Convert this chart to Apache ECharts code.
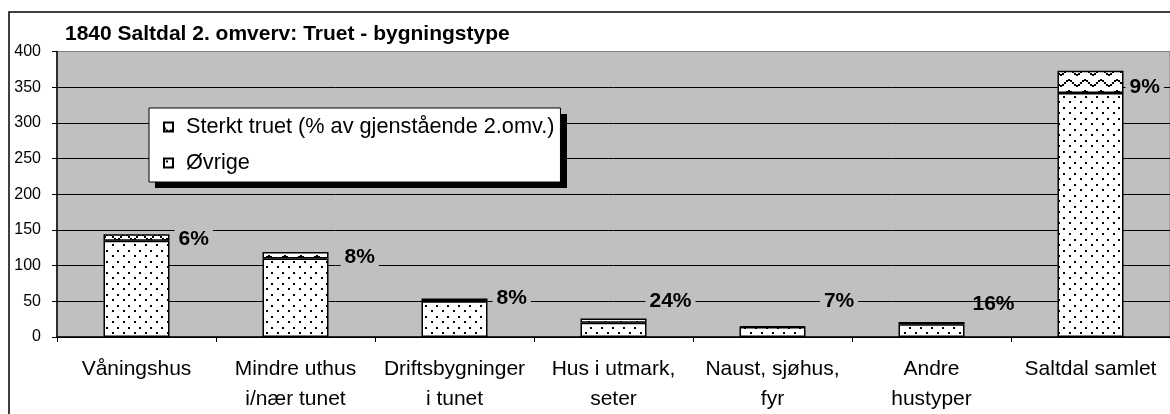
<!DOCTYPE html>
<html>
<head>
<meta charset="utf-8">
<script src="https://cdn.jsdelivr.net/npm/echarts@6.0.0/dist/echarts.min.js"></script>
<style>
  html, body { margin: 0; padding: 0; background: #fff; }
  #chart { width: 1170px; height: 414px; }
</style>
</head>
<body>
<div id="chart"></div>
<script>
// data
var categories = ['Våningshus', 'Mindre uthus\ni/nær tunet', 'Driftsbygninger\ni tunet',
  'Hus i utmark,\nseter', 'Naust, sjøhus,\nfyr', 'Andre\nhustyper', 'Saltdal samlet'];
var ovrige = [135, 110, 50, 20, 14, 18, 342];
var sterktTruet = [9, 9, 4, 6, 1, 3, 31];
var pctLabels = ['6%', '8%', '8%', '24%', '7%', '16%', '9%'];
var yTicks = [0, 400, 50]; // min, max, step

var FONT = "'Liberation Sans', Arial, sans-serif";

// fill patterns like the old excel ones
function dotPattern() {
  var c = document.createElement('canvas');
  c.width = 11; c.height = 11;
  var ctx = c.getContext('2d');
  ctx.fillStyle = '#fff';
  ctx.fillRect(0, 0, 11, 11);
  ctx.fillStyle = '#000';
  ctx.fillRect(2, 2, 2, 2);
  ctx.fillRect(7, 8, 2, 2);
  return c;
}
function wavePattern() {
  var c = document.createElement('canvas');
  c.width = 16; c.height = 11;
  var ctx = c.getContext('2d');
  ctx.fillStyle = '#fff';
  ctx.fillRect(0, 0, 16, 11);
  ctx.fillStyle = '#000';
  for (var x = 0; x < 16; x += 2) {
    var y = 5 + 3 * Math.sin(2 * Math.PI * x / 16);
    ctx.fillRect(x, Math.round(y), 2, 2);
  }
  return c;
}

// nudges for the % labels so they sit where they do in the picture
var labelShift = [[2, 2], [9, 2], [2, -2], [-4, -19], [11, -25], [1, -19], [-1, 5]];

var topData = sterktTruet.map(function (v, i) {
  var item = { value: v, label: { offset: labelShift[i] } };
  if (i === 5) item.label.backgroundColor = 'transparent';
  return item;
});

var splitColors = [];
for (var t = yTicks[0]; t <= yTicks[1]; t += yTicks[2]) {
  splitColors.push(t === yTicks[1] ? '#808080' : '#000');
}

var chart = echarts.init(document.getElementById('chart'));
var option = {
  backgroundColor: '#fff',
  animation: false,
  title: {
    text: '1840 Saltdal 2. omverv: Truet - bygningstype',
    left: 65,
    top: 24,
    padding: 0,
    textStyle: { fontFamily: FONT, fontWeight: 'bold', fontSize: 21, color: '#000' }
  },
  graphic: [
    {
      // outer chart frame
      type: 'rect',
      shape: { x: 9, y: 12, width: 1200, height: 450 },
      style: { fill: 'none', stroke: '#000', lineWidth: 1.5 },
      z: 0
    },
    {
      // hard drop shadow behind the legend box
      type: 'rect',
      shape: { x: 155, y: 114, width: 412, height: 74 },
      style: { fill: '#000' },
      z: 3
    }
  ],
  legend: {
    orient: 'vertical',
    left: 149,
    top: 108,
    z: 5,
    data: ['Sterkt truet (% av gjenstående 2.omv.)', 'Øvrige'],
    icon: 'rect',
    itemWidth: 9,
    itemHeight: 9,
    itemGap: 14,
    padding: [8, 6, 8, 14],
    backgroundColor: '#fff',
    borderColor: '#000',
    borderWidth: 1,
    textStyle: { fontFamily: FONT, fontSize: 21.7, color: '#000', padding: [0, 0, 0, 8] }
  },
  grid: {
    left: 57,
    top: 51.5,
    bottom: 73.5,
    right: -5.5,
    show: true,
    backgroundColor: '#c0c0c0',
    borderColor: '#808080',
    borderWidth: 1
  },
  xAxis: {
    type: 'category',
    data: categories,
    axisLine: { lineStyle: { color: '#000', width: 1.5 } },
    axisTick: { show: true, length: 5, lineStyle: { color: '#000' } },
    axisLabel: {
      interval: 0,
      margin: 17,
      fontFamily: FONT,
      fontSize: 21,
      lineHeight: 30,
      color: '#000'
    }
  },
  yAxis: {
    type: 'value',
    min: yTicks[0],
    max: yTicks[1],
    interval: yTicks[2],
    axisLine: { show: true, lineStyle: { color: '#000', width: 1.5 } },
    axisTick: { show: true, length: 5, lineStyle: { color: '#000' } },
    axisLabel: { margin: 16, fontFamily: FONT, fontSize: 16, color: '#000' },
    splitLine: { show: true, lineStyle: { color: splitColors, width: 1 } }
  },
  series: [
    {
      name: 'Øvrige',
      type: 'bar',
      stack: 'all',
      barWidth: 66,
      data: ovrige,
      itemStyle: {
        color: { image: dotPattern(), repeat: 'repeat' },
        borderColor: '#000',
        borderWidth: 1.5
      }
    },
    {
      name: 'Sterkt truet (% av gjenstående 2.omv.)',
      type: 'bar',
      stack: 'all',
      barWidth: 66,
      data: topData,
      itemStyle: {
        color: { image: wavePattern(), repeat: 'repeat' },
        borderColor: '#000',
        borderWidth: 1.5
      },
      label: {
        show: true,
        position: 'right',
        distance: 3,
        formatter: function (p) { return pctLabels[p.dataIndex]; },
        fontFamily: FONT,
        fontWeight: 'bold',
        fontSize: 21,
        color: '#000',
        backgroundColor: '#c0c0c0',
        padding: [1, 4]
      }
    }
  ]
};
chart.setOption(option);
</script>
</body>
</html>
